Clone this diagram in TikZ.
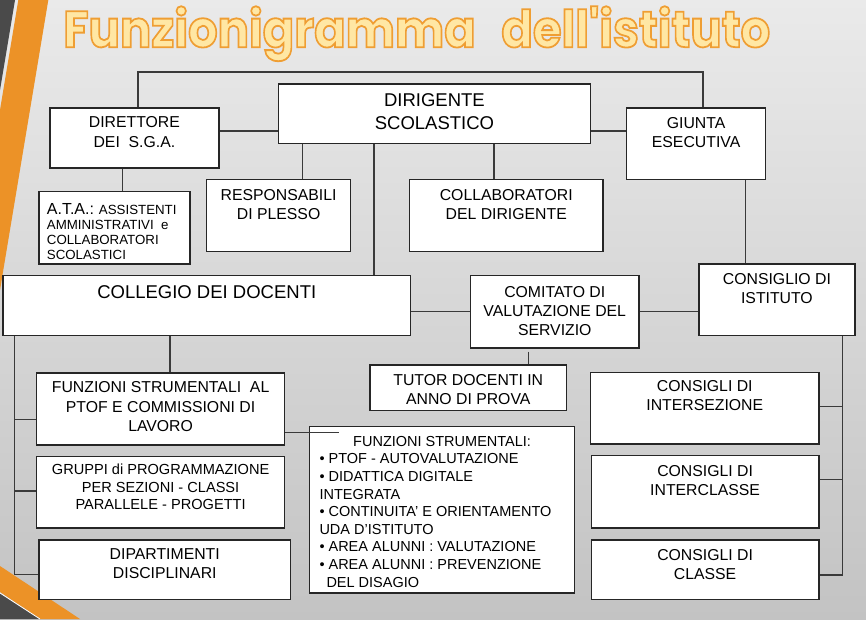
\documentclass[tikz,border=0pt]{standalone}
\usepackage{fontspec}
\setmainfont{Liberation Sans}
\newfontfamily\titlefont{Poppins}
\usepackage{graphicx}
\definecolor{bgTop}{HTML}{EAEAEA}
\definecolor{bgMid}{HTML}{E2E2E2}
\definecolor{bgBot}{HTML}{C3C3C3}
\definecolor{decoOr}{HTML}{EC9227}
\definecolor{decoDk}{HTML}{4A4A4A}
\definecolor{boxline}{HTML}{262626}
\definecolor{connline}{HTML}{3A3A3A}
\definecolor{tFill}{HTML}{FFE7A4}
\newcommand\ttltext{\resizebox*{707pt}{55pt}{\titlefont\bfseries\fontsize{50}{50}\selectfont\addfontfeature{FakeBold=3.5}\special{pdf:literal direct 0.937 0.620 0.200 RG}Funzionigramma\hspace{0.55em}dell'istituto}}
\pgfdeclarelayer{back}
\pgfdeclarelayer{lines}
\pgfsetlayers{back,lines,main}
\tikzset{
  box/.style={draw=boxline, line width=1.2pt, fill=white, inner sep=0pt, anchor=north west},
  lbl/.style={inner sep=0pt, align=center, anchor=north, text=black, font=\fontsize{15.8}{19.2}\selectfont},
  bigtxt/.style={font=\fontsize{18.5}{23.4}\selectfont},
  conn/.style={draw=connline, line width=1.1pt},
  ttl/.style={anchor=north west, inner sep=0pt}
}
\begin{document}
\begin{tikzpicture}[x=1pt,y=-1pt]
\useasboundingbox (0,0) rectangle (866,619);
\begin{pgfonlayer}{back}
% background
\shade[top color=bgTop, middle color=bgMid, bottom color=bgBot] (0,0) rectangle (866,619);
% decorations
\fill[decoDk] (0,0) -- (15,0) -- (0,90) -- cycle;
\fill[decoOr] (18.3,0) -- (48.3,0) -- (0,290) -- (0,110) -- cycle;
\fill[decoOr] (0,566) -- (80,619) -- (40,619) -- (0,592) -- cycle;
\fill[decoDk] (0,593) -- (40,619) -- (0,619) -- cycle;
\draw[white, line width=0.8pt] (0,593) -- (40,619);
\end{pgfonlayer}
% title
\node[ttl, text=tFill] (title) at (63,6) {\ttltext};

% boxes
\node[box, minimum width=312.3, minimum height=59.4] (dirigente) at (277.7,83.3) {};
\node[box, minimum width=169, minimum height=60] (direttore) at (49.3,107.3) {};
\node[box, minimum width=139, minimum height=71.7] (giunta) at (626,107.3) {};
\node[box, minimum width=151, minimum height=72.3] (ata) at (38.3,191) {};
\node[box, minimum width=144, minimum height=72] (resp) at (206,179) {};
\node[box, minimum width=193.3, minimum height=72] (collab) at (409,179) {};
\node[box, minimum width=407.7, minimum height=60] (collegio) at (2.3,275) {};
\node[box, minimum width=168.3, minimum height=72.3] (comitato) at (470,275) {};
\node[box, minimum width=156, minimum height=71.7] (consiglio) at (698.3,263.3) {};
\node[box, minimum width=196.7, minimum height=45.7] (tutor) at (369.3,364.3) {};
\node[box, minimum width=248, minimum height=72] (funz) at (36,372.3) {};
\node[box, minimum width=248, minimum height=71.6] (gruppi) at (36,455.7) {};
\node[box, minimum width=251.7, minimum height=59.7] (dipart) at (38.3,539.3) {};
\node[box, minimum width=265, minimum height=166.3] (lista) at (309,426) {};
\node[box, minimum width=228.3, minimum height=71.6] (intersez) at (590,371.7) {};
\node[box, minimum width=227.6, minimum height=72.3] (intercl) at (590.7,455) {};
\node[box, minimum width=227.6, minimum height=59.7] (classe) at (590.7,539.3) {};

% helper coordinates
\coordinate (topL) at (138,72);
\coordinate (topR) at (703,72);
\coordinate (hA) at (0,131);
\coordinate (xAta) at (122.3,0);
\coordinate (xResp) at (302.3,0);
\coordinate (xColl) at (374,0);
\coordinate (xCollab) at (494,0);
\coordinate (xCons) at (745.7,0);
\coordinate (yMid) at (0,311.7);
\coordinate (xTutor) at (528.3,0);
\coordinate (xFunz) at (170,0);
\coordinate (trunkL) at (14.3,574.3);
\coordinate (bL1) at (14.3,419.3);
\coordinate (bL2) at (14.3,491);
\coordinate (trunkR) at (842.3,575);
\coordinate (bR1) at (842.3,406.7);
\coordinate (bR2) at (842.3,479.3);
\coordinate (listEnd) at (339,432.7);

% connectors (behind boxes)
\begin{pgfonlayer}{lines}
\draw[conn] (direttore.north -| topL) -- (topL) -- (topR) -- (giunta.north -| topR);
\draw[conn] (direttore.east |- hA) -- (dirigente.west |- hA);
\draw[conn] (dirigente.east |- hA) -- (giunta.west |- hA);
\draw[conn] (direttore.south -| xAta) -- (ata.north -| xAta);
\draw[conn] (dirigente.south -| xResp) -- (resp.north -| xResp);
\draw[conn] (dirigente.south -| xColl) -- (collegio.north -| xColl);
\draw[conn] (dirigente.south -| xCollab) -- (collab.north -| xCollab);
\draw[conn] (giunta.south -| xCons) -- (consiglio.north -| xCons);
\draw[conn] (collegio.east |- yMid) -- (comitato.west |- yMid);
\draw[conn] (comitato.east |- yMid) -- (consiglio.west |- yMid);
\draw[conn] ([yshift=-3pt]comitato.south -| xTutor) -- (tutor.north -| xTutor);
\draw[conn] (collegio.south -| xFunz) -- (funz.north -| xFunz);
\draw[conn] (collegio.south -| trunkL) -- (trunkL) -- (dipart.west |- trunkL);
\draw[conn] (bL1) -- (funz.west |- bL1);
\draw[conn] (bL2) -- (gruppi.west |- bL2);
\draw[conn] (consiglio.south -| trunkR) -- (trunkR) -- (classe.east |- trunkR);
\draw[conn] (bR1) -- (intersez.east |- bR1);
\draw[conn] (bR2) -- (intercl.east |- bR2);
\end{pgfonlayer}
\draw[conn] (funz.east |- listEnd) -- (listEnd);

% texts
\node[lbl, bigtxt] (t-dirigente) at ([yshift=-10pt]dirigente.north) {DIRIGENTE\\SCOLASTICO};
\node[lbl] (t-direttore) at ([yshift=-9.4pt]direttore.north) {DIRETTORE\\DEI\ \ S.G.A.};
\node[lbl] (t-giunta) at ([yshift=-10pt]giunta.north) {GIUNTA\\ESECUTIVA};
\node[inner sep=0pt, anchor=north west, align=left, font=\fontsize{13.3}{15}\selectfont] (t-ata) at ([xshift=8.4pt,yshift=-12.3pt]ata.north west) {{\fontsize{16}{16}\selectfont A.T.A.:} ASSISTENTI\\AMMINISTRATIVI\ \ e\\COLLABORATORI\\SCOLASTICI};
\node[lbl] (t-resp) at ([yshift=-10.3pt]resp.north) {RESPONSABILI\\DI PLESSO};
\node[lbl] (t-collab) at ([yshift=-10.3pt]collab.north) {COLLABORATORI\\DEL DIRIGENTE};
\node[lbl, bigtxt] (t-collegio) at ([yshift=-10pt]collegio.north) {COLLEGIO DEI DOCENTI};
\node[lbl] (t-comitato) at ([yshift=-11pt]comitato.north) {COMITATO DI\\VALUTAZIONE DEL\\SERVIZIO};
\node[lbl] (t-consiglio) at ([yshift=-10pt]consiglio.north) {CONSIGLIO DI\\ISTITUTO};
\node[lbl] (t-tutor) at ([yshift=-9.7pt]tutor.north) {TUTOR DOCENTI IN\\ANNO DI PROVA};
\node[lbl] (t-funz) at ([yshift=-9.4pt]funz.north) {FUNZIONI STRUMENTALI\ \ AL\\PTOF E COMMISSIONI DI\\LAVORO};
\node[lbl, font=\fontsize{14.6}{17.5}\selectfont] (t-gruppi) at ([yshift=-8.3pt]gruppi.north) {GRUPPI di PROGRAMMAZIONE\\PER SEZIONI - CLASSI\\PARALLELE - PROGETTI};
\node[lbl] (t-dipart) at ([yshift=-9pt]dipart.north) {DIPARTIMENTI\\DISCIPLINARI};
\node[lbl, font=\fontsize{14.5}{17.6}\selectfont] (t-lista-h) at ([yshift=-10pt]lista.north) {FUNZIONI STRUMENTALI:};
\node[inner sep=0pt, anchor=north west, align=left, font=\fontsize{14.5}{17.6}\selectfont] (t-lista) at ([xshift=10.3pt,yshift=-27.6pt]lista.north west) {• PTOF - AUTOVALUTAZIONE\\• DIDATTICA DIGITALE\\INTEGRATA\\• CONTINUITA’ E ORIENTAMENTO\\UDA D’ISTITUTO\\• AREA ALUNNI : VALUTAZIONE\\• AREA ALUNNI : PREVENZIONE\\\hspace*{7pt}DEL DISAGIO};
\node[lbl] (t-intersez) at ([yshift=-8.3pt]intersez.north) {CONSIGLI DI\\INTERSEZIONE};
\node[lbl] (t-intercl) at ([yshift=-10pt]intercl.north) {CONSIGLI DI\\INTERCLASSE};
\node[lbl] (t-classe) at ([yshift=-10pt]classe.north) {CONSIGLI DI\\CLASSE};
\end{tikzpicture}
\end{document}
